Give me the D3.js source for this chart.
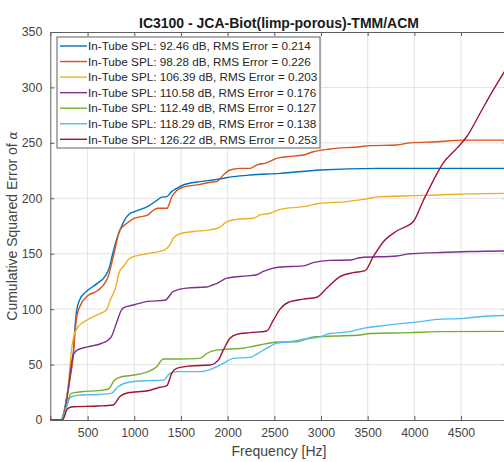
<!DOCTYPE html>
<html>
<head>
<meta charset="utf-8">
<script src="https://cdn.jsdelivr.net/npm/d3@7"></script>
<style>
  body { margin: 0; background: #fff; }
  svg { display: block; font-family: "Liberation Sans", Arial, Helvetica, sans-serif; }
</style>
</head>
<body>
<svg id="chart" width="504" height="462"></svg>
<script>
// Cumulative squared error of the absorption coefficient vs frequency, per in-tube SPL
const chartTitle = "IC3100 - JCA-Biot(limp-porous)-TMM/ACM";
const xTicks = [500, 1000, 1500, 2000, 2500, 3000, 3500, 4000, 4500, 5000];
const yTicks = [0, 50, 100, 150, 200, 250, 300, 350];

const splLevels = ["92.46", "98.28", "106.39", "110.58", "112.49", "118.29", "126.22"];
const rmsErrors = ["0.214", "0.226", "0.203", "0.176", "0.127", "0.138", "0.253"];
const lineColors = ["#0072BD", "#D95319", "#EDB120", "#7E2F8E", "#77AC30", "#4DBEEE", "#A2142F"];

// [frequency Hz, cumulative squared error]
const spl9246 = [[100,0],[215,0],[240,5],[276,21],[311,39],[346,60],[365,84],[383,99],[418,109],[450,113],[500,117],[600,123],[690,130],[730,137],[760,147],[800,160],[850,172],[900,181],[950,186],[1004,188],[1150,193],[1240,198],[1293,201],[1347,201.5],[1400,206],[1454,209],[1525,212],[1704,215],[1882,217],[2060,219.5],[2240,221],[2560,222.5],[2990,225.5],[3600,227],[5000,227]];
const spl9828 = [[100,0],[215,0],[240,4],[276,19],[311,37],[346,58],[365,79],[385,94],[432,105],[500,112],[611,117],[718,129],[790,153],[843,171],[914,177],[1004,182],[1147,185],[1200,189],[1250,191],[1350,191],[1400,201],[1454,207],[1525,210],[1704,212.5],[1811,214.5],[1882,215],[1953,221],[2025,225.5],[2132,227],[2240,227],[2311,230],[2418,232],[2525,236],[2633,237.5],[2810,239],[2917,242],[3096,244.5],[3418,246.5],[3525,247.5],[3811,248],[3954,250],[4240,251],[4525,252.5],[5000,252.5]];
const spl10639 = [[100,0],[215,0],[240,5],[276,20],[300,38],[325,62],[350,75],[397,84],[490,90],[632,96],[700,99],[740,108],[790,117],[847,135],[879,138],[954,146],[1133,150],[1311,153],[1382,158],[1418,164],[1489,168],[1632,170],[1811,171.5],[1918,174],[1990,179],[2097,181],[2275,182],[2347,185],[2454,186.5],[2561,190],[2810,192.5],[2989,195.5],[3275,197],[3453,199],[3632,201.5],[3882,202],[4240,203],[4596,204],[5000,204.5]];
const spl11058 = [[100,0],[215,0],[240,4],[276,18],[300,33],[325,50],[346,59],[397,63.5],[504,66],[646,69],[718,72],[753,75],[807,87],[861,99],[879,101],[1004,104],[1147,107],[1329,108],[1418,116],[1561,119],[1775,120],[1846,122],[1882,123],[1990,128],[2204,130],[2311,131],[2382,134],[2489,137],[2561,138],[2810,139],[2917,142],[3096,144],[3311,144.3],[3418,146.4],[3811,148],[3954,150],[4240,151],[4596,152],[5000,152.5]];
const spl11249 = [[100,0],[215,0],[245,4],[276,13],[300,20],[325,24],[432,25.5],[611,26.5],[718,27.7],[790,36],[861,39],[1004,40.6],[1147,43.6],[1240,48],[1311,55],[1454,55],[1704,55.6],[1775,60],[1882,63],[2025,64],[2168,64.7],[2239,66],[2347,67.7],[2454,69.5],[2561,70.3],[2740,70.6],[2917,75],[3168,75.8],[3418,76.7],[3525,78],[3954,78.8],[4240,79.7],[5000,80]];
const spl11829 = [[100,0],[215,0],[245,4],[276,12],[300,18],[325,21],[432,22.5],[611,23],[753,24],[825,30],[968,34.5],[1147,35.5],[1311,36],[1382,42],[1454,43.6],[1704,43.6],[1846,46.6],[1953,51],[2060,55.6],[2239,56.5],[2311,59.5],[2418,64.7],[2525,69.3],[2668,70.6],[2810,72.8],[2989,75],[3096,78],[3311,79.7],[3453,82.7],[3632,84.8],[3882,87.2],[4061,88.7],[4240,90.8],[4525,91.7],[4704,93.2],[5000,94.3]];
const spl12622 = [[100,0],[230,0],[250,3],[276,9],[300,11],[346,12],[611,12.6],[772,13.5],[843,21],[932,24.6],[1147,26.4],[1236,28.6],[1275,29.5],[1347,30.7],[1400,42],[1454,46.6],[1597,48.7],[1811,49.6],[1900,54],[1953,63],[2025,73.7],[2097,77.3],[2239,78.8],[2418,80.3],[2489,90],[2561,100],[2668,106.7],[2810,109],[2954,110.7],[3061,118.8],[3204,129.3],[3346,132.9],[3471,134.7],[3560,147.3],[3668,160.8],[3811,170.5],[3989,179],[4096,198],[4203,216],[4310,232],[4454,245],[4561,255.5],[4704,276.7],[4846,297.7],[4953,312.7],[5000,319]];

const seriesData = [spl9246, spl9828, spl10639, spl11058, spl11249, spl11829, spl12622];

const svg = d3.select("#chart");
const plot = { left: 50.3, right: 507.7, top: 32, bottom: 420 };

const x = d3.scaleLinear().domain([100, 5000]).range([plot.left, plot.right]);
const y = d3.scaleLinear().domain([0, 350]).range([plot.bottom, plot.top]);

const axisColor = "#5e5e5e";
const textColor = "#444";

// grid
const grid = svg.append("g").attr("stroke", "#e3e3e3").attr("stroke-width", 1);
grid.selectAll("line.vx").data(xTicks).join("line")
  .attr("x1", d => x(d)).attr("x2", d => x(d))
  .attr("y1", plot.top).attr("y2", plot.bottom);
grid.selectAll("line.hy").data(yTicks.filter(d => d > 0 && d < 350)).join("line")
  .attr("x1", plot.left).attr("x2", plot.right)
  .attr("y1", d => y(d)).attr("y2", d => y(d));

// series lines
svg.append("defs").append("clipPath").attr("id", "plotClip")
  .append("rect").attr("x", plot.left).attr("y", plot.top)
  .attr("width", plot.right - plot.left).attr("height", plot.bottom - plot.top);

const line = d3.line()
  .x(d => x(d[0])).y(d => y(d[1]))
  .curve(d3.curveMonotoneX);

svg.append("g").attr("clip-path", "url(#plotClip)")
  .selectAll("path").data(seriesData).join("path")
  .attr("d", line)
  .attr("fill", "none")
  .attr("stroke", (d, i) => lineColors[i])
  .attr("stroke-width", 1.4)
  .attr("stroke-linejoin", "round");

// axes (ticks point inward, box on all sides)
const tickLen = 4;
const bottomAxis = d3.axisBottom(x).tickValues(xTicks).tickSize(-tickLen).tickPadding(8).tickFormat(d3.format("d"));
const topAxis = d3.axisTop(x).tickValues(xTicks).tickSize(-tickLen).tickFormat("");
const leftAxis = d3.axisLeft(y).tickValues(yTicks).tickSize(-tickLen).tickPadding(8).tickFormat(d3.format("d"));
const rightAxis = d3.axisRight(y).tickValues(yTicks).tickSize(-tickLen).tickFormat("");

function styleAxis(g) {
  g.select(".domain").attr("stroke", axisColor).attr("stroke-width", 1);
  g.selectAll(".tick line").attr("stroke", axisColor);
  g.selectAll(".tick text").attr("fill", textColor).attr("font-size", 12.3)
    .attr("font-family", "Liberation Sans, Arial, sans-serif");
}

svg.append("g").attr("transform", `translate(0,${plot.bottom})`).call(bottomAxis).call(styleAxis)
  .call(g => g.selectAll(".tick").filter(d => d === 5000).select("text").remove());
svg.append("g").attr("transform", `translate(0,${plot.top})`).call(topAxis).call(styleAxis);
svg.append("g").attr("transform", `translate(${plot.left},0)`).call(leftAxis).call(styleAxis);
svg.append("g").attr("transform", `translate(${plot.right},0)`).call(rightAxis).call(styleAxis);

// title and axis labels
svg.append("text")
  .attr("x", (plot.left + plot.right) / 2).attr("y", 28)
  .attr("text-anchor", "middle").attr("font-size", 14).attr("font-weight", "bold")
  .attr("fill", "#1a1a1a").text(chartTitle);

svg.append("text")
  .attr("x", (plot.left + plot.right) / 2).attr("y", 456)
  .attr("text-anchor", "middle").attr("font-size", 14).attr("fill", textColor)
  .text("Frequency [Hz]");

const yl = svg.append("text")
  .attr("transform", `translate(17,${(plot.top + plot.bottom) / 2}) rotate(-90)`)
  .attr("text-anchor", "middle").attr("font-size", 14).attr("fill", textColor);
yl.append("tspan").text("Cumulative Squared Error of ");
yl.append("tspan").attr("font-style", "italic").attr("font-family", "DejaVu Serif, serif").attr("font-size", 12).text("α");

// legend
const legend = { x: 57, y: 37, w: 263, h: 111, rowH: 15.55, firstRow: 46 };
const lg = svg.append("g");
lg.append("rect")
  .attr("x", legend.x).attr("y", legend.y).attr("width", legend.w).attr("height", legend.h)
  .attr("fill", "#fff").attr("stroke", axisColor).attr("stroke-width", 1);

const rows = lg.selectAll("g.row").data(splLevels).join("g")
  .attr("transform", (d, i) => `translate(0,${legend.firstRow + i * legend.rowH})`);
rows.append("line")
  .attr("x1", 60).attr("x2", 87).attr("y1", 0).attr("y2", 0)
  .attr("stroke", (d, i) => lineColors[i]).attr("stroke-width", 1.4);
rows.append("text")
  .attr("x", 88).attr("y", 4.2)
  .attr("font-size", 11.7).attr("fill", "#262626")
  .text((d, i) => `In-Tube SPL: ${d} dB, RMS Error = ${rmsErrors[i]}`);
</script>
</body>
</html>
